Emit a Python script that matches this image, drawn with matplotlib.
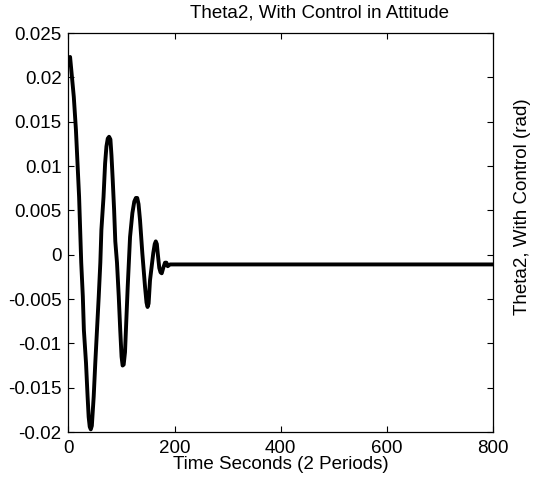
import matplotlib
matplotlib.use("Agg")
import matplotlib.pyplot as plt
import numpy as np

# time (s) and theta2 (rad)
t = [0, 3, 10, 14, 17, 20, 22, 24, 27, 29, 33, 36, 38, 40, 42, 44, 47.5, 50.5, 53.7,
     57, 60, 62, 66, 69, 71.5, 74, 76.5, 79, 81, 83.3, 86, 88.2, 91.4, 94.7, 97.5,
     100, 102, 104, 106.5, 111.6, 116, 120.4, 124, 127, 129.5, 132, 134.8, 139.1,
     144.2, 147, 149, 151, 153.6, 159.8, 162.5, 164.5, 166.5, 168.1, 171.1, 173.5,
     175.7, 178.5, 181.9, 184.5, 187, 191.3, 800]
theta2 = [0.0215, 0.0223, 0.0178, 0.0141, 0.0103, 0.0065, 0.0028, -0.0009, -0.0047,
          -0.0085, -0.0122, -0.016, -0.0183, -0.0194, -0.0197, -0.0193, -0.0160,
          -0.0122, -0.0085, -0.0047, -0.0009, 0.0028, 0.0065, 0.0103, 0.0122, 0.0131,
          0.0133, 0.0130, 0.0112, 0.0085, 0.0050, 0.0015, -0.0009, -0.0047, -0.0085,
          -0.0115, -0.0125, -0.0124, -0.0110, -0.0036, 0.0020, 0.0047, 0.0060, 0.0064,
          0.0064, 0.0057, 0.0039, 0.0002, -0.0036, -0.0054, -0.0059, -0.0055, -0.0029,
          0.0002, 0.0012, 0.0015, 0.0012, 0.0002, -0.0015, -0.0020, -0.0021, -0.0015,
          -0.0009, -0.0009, -0.0013, -0.0011, -0.0011]

xticks = [0, 200, 400, 600, 800]
yticks = [-0.02, -0.015, -0.01, -0.005, 0, 0.005, 0.01, 0.015, 0.02, 0.025]
ytick_labels = ["-0.02", "-0.015", "-0.01", "-0.005", "0", "0.005", "0.01", "0.015",
                "0.02", "0.025"]

plt.rcParams["font.family"] = ["Liberation Sans", "DejaVu Sans"]
FS = 13.5

fig = plt.figure(figsize=(5.33, 4.82), dpi=100)
ax = fig.add_axes([0.1285, 0.1037, 0.7965, 0.8278])
ax.plot(t, theta2, color="black", lw=2.8, solid_joinstyle="round")

ax.set_xlim(0, 800)
ax.set_ylim(-0.02, 0.025)
ax.set_xticks(xticks)
ax.set_yticks(yticks)
ax.set_yticklabels(ytick_labels)
ax.tick_params(direction="in", length=4, width=0.8, top=True, right=True,
               labelsize=FS)
ax.tick_params(axis="x", pad=6)
ax.tick_params(axis="y", pad=5)
for s in ax.spines.values():
    s.set_linewidth(0.9)

ax.set_xlabel("Time Seconds (2 Periods)", fontsize=FS, labelpad=-1)
fig.text(0.60, 0.973, "Theta2, With Control in Attitude", ha="center", va="center",
         fontsize=FS)
fig.text(0.981, 0.571, "Theta2, With Control (rad)", ha="center", va="center",
         rotation=90, fontsize=FS)

fig.savefig("out.png", dpi=100)
